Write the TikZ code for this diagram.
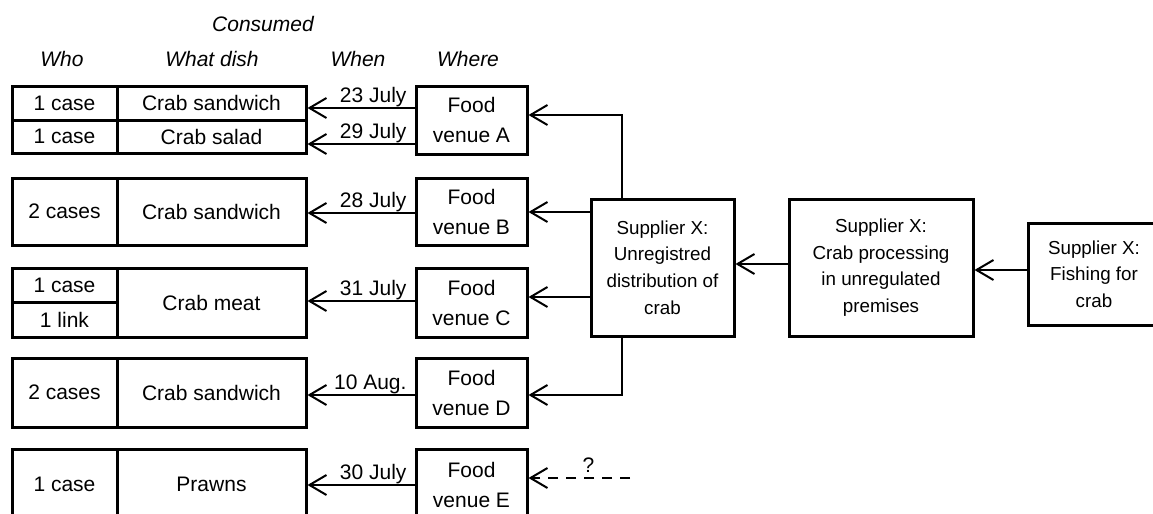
\documentclass[tikz,border=0pt]{standalone}
\usepackage{fontspec}
\setmainfont{Liberation Sans}
\usetikzlibrary{arrows.meta}
\begin{document}
\begin{tikzpicture}[x=0.5pt,y=-0.5pt,
  every node/.style={font=\fontsize{10.5}{15}\selectfont},
  box/.style={draw, line width=1.5pt, inner sep=0pt, align=center},
  sz/.style 2 args={minimum width=#1*0.5pt, minimum height=#2*0.5pt},
  supbox/.style={box, font=\fontsize{9.4}{13.3}\selectfont},
  conn/.style={line width=1pt, -{Straight Barb[length=8.5pt,width=10pt,line width=1pt]}},
  lab/.style={anchor=base east, inner sep=0pt, xshift=-3.5pt, yshift=3pt},
  head/.style={font=\fontsize{10.5}{15}\selectfont\itshape, anchor=base, inner sep=0pt}]
\useasboundingbox (0,0) rectangle (1153,514);
\clip (0,0) rectangle (1153,514);

% headers
\node[head] (hcons) at (263,32) {Consumed};
\node[head] (hwho) at (62,66) {Who};
\node[head] (hdish) at (212,66) {What dish};
\node[head] (hwhen) at (358,66) {When};
\node[head] (hwhere) at (468,66) {Where};

% table
\node[box,sz={105}{34}] (whoA1) at (64.5,103) {1 case};
\node[box,sz={189}{34}] (dishA1) at (211.5,103) {Crab sandwich};
\node[box,sz={105}{33}] (whoA2) at (64.5,136.5) {1 case};
\node[box,sz={189}{33}] (dishA2) at (211.5,136.5) {Crab salad};

\node[box,sz={105}{67}] (whoB) at (64.5,211.5) {2 cases};
\node[box,sz={189}{67}] (dishB) at (211.5,211.5) {Crab sandwich};

\node[box,sz={105}{34}] (whoC1) at (64.5,285) {1 case};
\node[box,sz={105}{35}] (whoC2) at (64.5,319.5) {1 link};
\node[box,sz={189}{69}] (dishC) at (211.5,302.5) {Crab meat};

\node[box,sz={105}{69}] (whoD) at (64.5,392.5) {2 cases};
\node[box,sz={189}{69}] (dishD) at (211.5,392.5) {Crab sandwich};

\node[box,sz={105}{71}] (whoE) at (64.5,484.5) {1 case};
\node[box,sz={189}{71}] (dishE) at (211.5,484.5) {Prawns};

% venues
\node[box,sz={111}{68}] (venA) at (471.5,120) {Food\\venue A};
\node[box,sz={111}{67}] (venB) at (471.5,211.5) {Food\\venue B};
\node[box,sz={111}{69}] (venC) at (471.5,302.5) {Food\\venue C};
\node[box,sz={111}{69}] (venD) at (471.5,392.5) {Food\\venue D};
\node[box,sz={111}{71}] (venE) at (471.5,484.5) {Food\\venue E};

% suppliers
\node[supbox,sz={143}{137}] (dist) at (662.5,267.5) {Supplier X:\\Unregistred\\distribution of\\crab};
\node[supbox,sz={184}{137}] (proc) at (881,267.5) {Supplier X:\\Crab processing\\in unregulated\\premises};
\node[supbox,sz={132}{102}] (fish) at (1094,274) {Supplier X:\\Fishing for\\crab};

% venue -> table
\draw[conn] (venA.west |- 0,108) -- node[lab,pos=0]{23 July} (dishA1.east |- 0,108);
\draw[conn] (venA.west |- 0,144) -- node[lab,pos=0]{29 July} (dishA2.east |- 0,144);
\draw[conn] (venB.west |- 0,213) -- node[lab,pos=0]{28 July} (dishB.east |- 0,213);
\draw[conn] (venC.west |- 0,301) -- node[lab,pos=0]{31 July} (dishC.east |- 0,301);
\draw[conn] (venD.west |- 0,395) -- node[lab,pos=0]{10 Aug.} (dishD.east |- 0,395);
\draw[conn] (venE.west |- 0,485) -- node[lab,pos=0]{30 July} (dishE.east |- 0,485);

% supplier -> venues
\draw[conn] (dist.north -| 622,0) |- (venA.east |- 0,115);
\draw[conn] (dist.west |- 0,212) -- (venB.east |- 0,212);
\draw[conn] (dist.west |- 0,297) -- (venC.east |- 0,297);
\draw[conn] (dist.south -| 622,0) |- (venD.east |- 0,395);
\draw[conn] (proc.west |- 0,264) -- (dist.east |- 0,264);
\draw[conn] (fish.west |- 0,270) -- (proc.east |- 0,270);

\coordinate (qE) at (630,478);
\draw[conn, dash pattern=on 5pt off 4pt] (qE) -- node[pos=0.41, anchor=base, inner sep=0pt, yshift=3pt]{?} (venE.east |- qE);
\end{tikzpicture}
\end{document}
